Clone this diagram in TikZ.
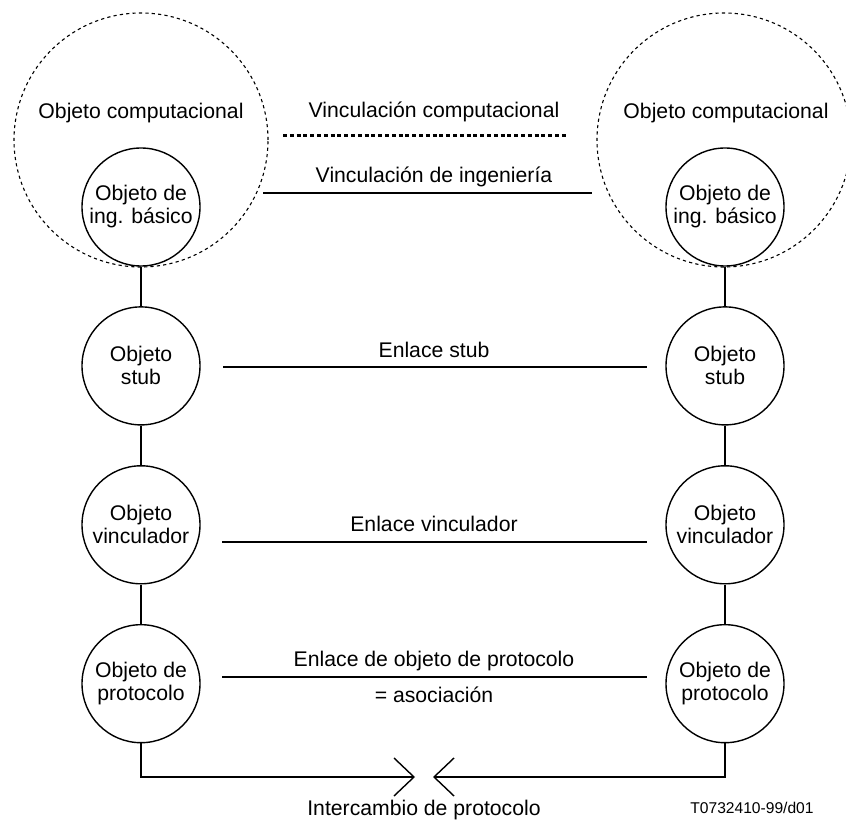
\documentclass[tikz,border=0pt]{standalone}
\usepackage{fontspec}
\setmainfont{Liberation Sans}
\usetikzlibrary{arrows.meta,positioning}

\begin{document}
\begin{tikzpicture}[
    x=0.5pt, y=-0.5pt,
    every node/.style={font=\fontsize{10.6}{11.5}\selectfont},
    object/.style={circle, draw, line width=0.7pt, minimum size=59pt, inner sep=0pt,
        text centered, align=center},
    compobj/.style={circle, draw, line width=0.55pt, dash pattern=on 1.6pt off 1.6pt,
        minimum size=127pt, inner sep=0pt},
    link/.style={line width=0.7pt},
    binding/.style={line width=1.5pt, dash pattern=on 2pt off 1.4pt},
    exchange/.style={line width=0.7pt, -{Straight Barb[length=10pt,width=19pt]}},
    tag/.style={inner sep=0pt, text centered},
    node distance=19.75pt
    ]
    \useasboundingbox (0,0) rectangle (846,823);
    \node (CompL) [compobj] at (141,140) {};
    \node (CompR) [compobj] at (724,140) {};
    \node (CompLLabel) [tag] at (141,113) {Objeto computacional};
    \node (CompRLabel) [tag] at (726,113) {Objeto computacional};
    \node (BasicL) [object] at (141,207) {Objeto de\\ing. básico};
    \node (BasicR) [object] at (725,207) {Objeto de\\ing. básico};
    \node (StubL) [object, below=of BasicL] {Objeto\\stub};
    \node (StubR) [object, below=of BasicR] {Objeto\\stub};
    \node (BinderL) [object, below=of StubL] {Objeto\\vinculador};
    \node (BinderR) [object, below=of StubR] {Objeto\\vinculador};
    \node (ProtoL) [object, below=of BinderL] {Objeto de\\protocolo};
    \node (ProtoR) [object, below=of BinderR] {Objeto de\\protocolo};
    \draw [link] (BasicL) -- (StubL) -- (BinderL) -- (ProtoL);
    \draw [link] (BasicR) -- (StubR) -- (BinderR) -- (ProtoR);
    \coordinate (CompA) at (283,136);
    \coordinate (CompB) at (567,136);
    \coordinate (EngA) at (263,193);
    \coordinate (EngB) at (592,193);
    \coordinate (StubA) at (223,367);
    \coordinate (StubB) at (647,367);
    \coordinate (BinderA) at (222,542);
    \coordinate (BinderB) at (647,542);
    \coordinate (ProtoA) at (222,677);
    \coordinate (ProtoB) at (647,677);
    \coordinate (SwapL) at (415,777);
    \coordinate (SwapR) at (433,777);
    \draw [binding] (CompA) -- (CompB);
    \draw [link] (EngA) -- (EngB);
    \draw [link] (StubA) -- (StubB);
    \draw [link] (BinderA) -- (BinderB);
    \draw [link] (ProtoA) -- (ProtoB);
    \draw [exchange] (ProtoL) |- (SwapL);
    \draw [exchange] (ProtoR) |- (SwapR);
    \node (CompLinkLabel) [tag] at (434,112) {Vinculación computacional};
    \node (EngLabel) [tag] at (434,177) {Vinculación de ingeniería};
    \node (StubLabel) [tag] at (434,350) {Enlace stub};
    \node (BinderLabel) [tag] at (434,524) {Enlace vinculador};
    \node (ProtoLabel) [tag] at (434,661) {Enlace de objeto de protocolo};
    \node (AssocLabel) [tag] at (434,695) {= asociación};
    \node (SwapLabel) [tag] at (424,810) {Intercambio de protocolo};
    \node (FigRef) [tag, font=\fontsize{7.8}{9}\selectfont] at (752,808) {T0732410-99/d01};
\end{tikzpicture}
\end{document}
